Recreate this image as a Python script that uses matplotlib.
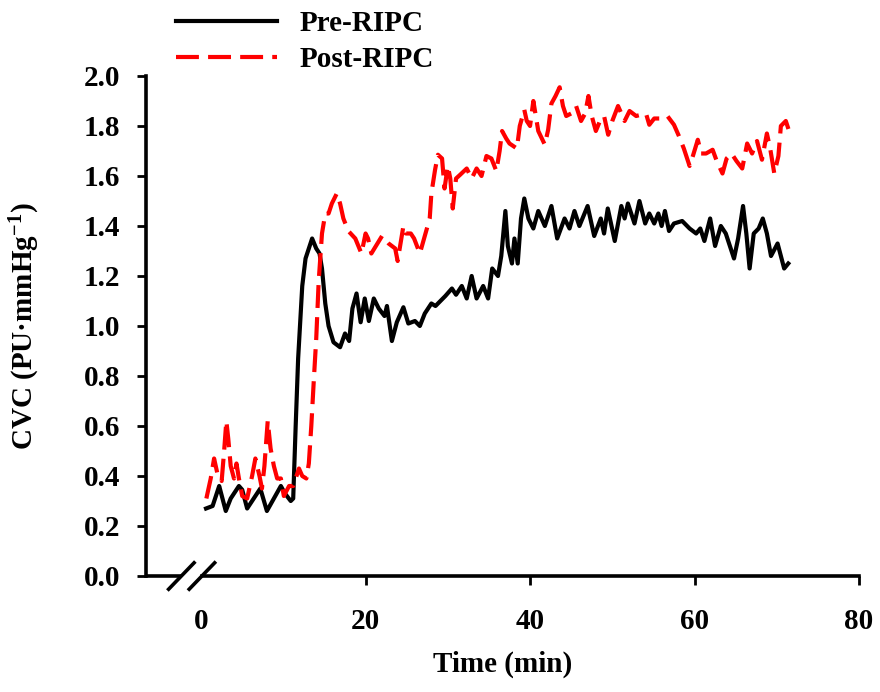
import matplotlib
matplotlib.use("Agg")
import matplotlib.pyplot as plt
import numpy as np

# ---------------- data ----------------
pre_t = [0.6, 1.4, 2.0, 2.2, 3.0, 3.6, 4.6, 5.0, 5.6, 6.4, 7.2, 8.0, 8.85, 9.7, 10.2, 10.9,
         11.2, 11.5, 11.8, 12.3, 12.7, 13.5, 14.0, 14.4, 14.7, 15.1, 15.5, 16.1, 16.9, 17.5,
         18.0, 18.4, 18.9, 19.4, 19.9, 20.4, 21.0, 21.6, 22.3, 22.6, 23.2, 23.8, 24.6, 25.2,
         26.0, 26.6, 27.2, 28.0, 28.5, 29.7, 30.5, 31.0, 31.7, 32.3, 32.9, 33.5, 34.3, 34.9,
         35.4, 36.1, 36.5, 37.0, 37.3, 37.8, 38.1, 38.5, 38.9, 39.3, 39.8, 40.4, 41.0, 41.8,
         42.6, 43.3, 44.2, 44.8, 45.4, 46.0, 47.0, 47.8, 48.6, 49.0, 49.45, 50.3, 51.1, 51.5,
         51.9, 52.7, 53.3, 54.0, 54.5, 55.1, 55.6, 56.0, 56.4, 56.9, 57.5, 58.5, 59.4, 60.2,
         60.7, 61.2, 61.9, 62.5, 63.2, 63.8, 64.2, 64.8, 65.3, 65.9, 66.3, 66.7, 67.2, 67.8,
         68.3, 68.8, 69.3, 70.1, 70.9, 71.4]
pre_v = [0.27, 0.28, 0.34, 0.36, 0.26, 0.31, 0.36, 0.345, 0.27, 0.31, 0.35, 0.26, 0.31, 0.36, 0.33, 0.30,
         0.31, 0.60, 0.87, 1.16, 1.27, 1.35, 1.31, 1.29, 1.23, 1.09, 1.00, 0.935, 0.915, 0.97,
         0.94, 1.07, 1.13, 1.015, 1.11, 1.02, 1.11, 1.07, 1.04, 1.08, 0.94, 1.015, 1.075, 1.01,
         1.02, 1.00, 1.05, 1.09, 1.08, 1.12, 1.15, 1.125, 1.16, 1.11, 1.20, 1.11, 1.16, 1.11,
         1.23, 1.20, 1.28, 1.46, 1.32, 1.25, 1.35, 1.25, 1.43, 1.51, 1.43, 1.39, 1.46, 1.40,
         1.48, 1.35, 1.43, 1.39, 1.46, 1.40, 1.48, 1.36, 1.43, 1.37, 1.47, 1.34, 1.48, 1.43,
         1.49, 1.41, 1.50, 1.41, 1.45, 1.41, 1.45, 1.40, 1.46, 1.38, 1.41, 1.42, 1.39, 1.37,
         1.39, 1.34, 1.43, 1.32, 1.40, 1.37, 1.33, 1.27, 1.35, 1.48, 1.37, 1.23, 1.37, 1.39,
         1.43, 1.37, 1.28, 1.33, 1.23, 1.25]

post_t = [0.64, 1.17, 1.58, 1.98, 2.5, 2.8, 3.07, 3.3, 3.6, 4.0, 4.3, 4.6, 5.0, 5.6, 6.2, 6.6,
          7.1, 7.4, 7.7, 8.1, 8.45, 8.85, 9.25, 9.7, 10.06, 10.7, 11.2, 11.9, 12.3, 12.8, 13.1,
          13.4, 13.7, 14.0, 14.3, 14.7, 15.1, 15.5, 15.9, 16.5, 16.9, 17.3, 17.9, 18.75, 19.5,
          20.0, 20.3, 20.7, 22.0, 22.8, 23.6, 23.9, 24.6, 24.9, 25.5, 25.9, 26.6, 27.2, 27.8,
          28.0, 28.45, 28.8, 29.3, 29.6, 30.0, 30.3, 30.6, 31.0, 31.5, 32.3, 32.9, 33.5, 34.1,
          34.7, 35.3, 35.9, 36.3, 36.6, 37.1, 37.5, 38.4, 38.75, 39.3, 39.6, 40.0, 40.4, 41.0,
          41.8, 42.2, 42.6, 43.1, 43.6, 44.0, 44.4, 45.0, 45.6, 46.2, 46.7, 47.1, 47.5, 48.0,
          48.5, 49.0, 49.5, 50.0, 50.7, 51.1, 51.5, 52.1, 52.9, 54.1, 54.5, 55.1, 55.9, 56.7,
          57.5, 58.1, 58.7, 59.4, 59.8, 60.4, 60.8, 61.4, 62.2, 62.7, 63.4, 63.9, 64.5, 65.1,
          65.8, 66.4, 67.0, 67.6, 68.2, 68.8, 69.2, 69.7, 70.2, 70.5, 71.1, 71.5]
post_v = [0.31, 0.39, 0.47, 0.41, 0.38, 0.50, 0.62, 0.55, 0.44, 0.39, 0.45, 0.39, 0.32, 0.31, 0.40, 0.47,
          0.40, 0.35, 0.44, 0.62, 0.51, 0.44, 0.39, 0.39, 0.32, 0.36, 0.36, 0.43, 0.40, 0.39, 0.45,
          0.60, 0.78, 0.95, 1.18, 1.37, 1.45, 1.45, 1.49, 1.53, 1.49, 1.43, 1.38, 1.35, 1.29,
          1.37, 1.35, 1.29, 1.36, 1.33, 1.31, 1.26, 1.40, 1.37, 1.37, 1.35, 1.29, 1.36, 1.43,
          1.53, 1.625, 1.685, 1.67, 1.55, 1.64, 1.59, 1.47, 1.59, 1.605, 1.63, 1.59, 1.63, 1.60,
          1.68, 1.67, 1.62, 1.70, 1.78, 1.75, 1.73, 1.71, 1.80, 1.865, 1.82, 1.80, 1.90, 1.78,
          1.725, 1.785, 1.89, 1.92, 1.955, 1.88, 1.84, 1.85, 1.88, 1.82, 1.85, 1.92, 1.84, 1.78,
          1.82, 1.84, 1.765, 1.82, 1.88, 1.85, 1.82, 1.86, 1.84, 1.85, 1.805, 1.83, 1.83, 1.84,
          1.805, 1.76, 1.71, 1.64, 1.68, 1.745, 1.69, 1.69, 1.705, 1.66, 1.61, 1.67, 1.69, 1.66,
          1.63, 1.73, 1.69, 1.74, 1.665, 1.77, 1.71, 1.61, 1.68, 1.80, 1.82, 1.78]

x_ticks = [0, 20, 40, 60, 80]
y_ticks = [0.0, 0.2, 0.4, 0.6, 0.8, 1.0, 1.2, 1.4, 1.6, 1.8, 2.0]
series_labels = ["Pre-RIPC", "Post-RIPC"]

# ---------------- style ----------------
FONT = "Liberation Serif"
plt.rcParams["font.family"] = [FONT, "DejaVu Serif"]
plt.rcParams["font.weight"] = "bold"
plt.rcParams["mathtext.fontset"] = "custom"
plt.rcParams["mathtext.rm"] = FONT + ":bold"
plt.rcParams["mathtext.it"] = FONT + ":bold:italic"
plt.rcParams["mathtext.bf"] = FONT + ":bold"
plt.rcParams["mathtext.default"] = "rm"
FS = 21

fig = plt.figure(figsize=(8.8, 6.92), dpi=100)
ax = fig.add_axes([146 / 880, 1 - 576 / 692, 713 / 880, 500 / 692])

lw = 3.0
l1, = ax.plot(pre_t, pre_v, color="black", lw=lw, solid_joinstyle="round")
l2, = ax.plot(post_t, post_v, color="#ff0000", lw=lw, linestyle=(0, (5.5, 2.2)),
              dash_capstyle="butt", dash_joinstyle="round")

xmin, xmax = -6.7, 80
ax.set_xlim(xmin, xmax)
ax.set_ylim(0, 2.0)

ax.set_xticks(x_ticks)
ax.set_xticklabels([str(v) for v in x_ticks])
ax.set_yticks(y_ticks)
ax.set_yticklabels([f"{v:.1f}" for v in y_ticks])

for s in ["top", "right"]:
    ax.spines[s].set_visible(False)
ax.spines["left"].set_linewidth(2.6)
ax.spines["bottom"].set_linewidth(2.6)

# axis break
s1, s2 = -2.4, 0.1
ax.spines["bottom"].set_bounds(s2, xmax)
ax.plot([xmin, s1], [0, 0], color="black", lw=2.6, clip_on=False, solid_capstyle="butt")
dx, dy = 1.7, 0.058
for s in (s1, s2):
    ax.plot([s - dx, s + dx], [-dy, dy], color="black", lw=2.6, clip_on=False,
            solid_capstyle="butt")

ax.tick_params(axis="both", direction="out", length=6.5, width=2.0, labelsize=FS)
ax.tick_params(axis="x", pad=16.5)
ax.tick_params(axis="y", pad=12)
ax.xaxis.get_major_ticks()[0].tick1line.set_visible(False)
for lab in ax.get_xticklabels() + ax.get_yticklabels():
    lab.set_fontweight("bold")

ax.set_xlabel("Time (min)", fontsize=FS, fontweight="bold", labelpad=11.5)
ax.set_ylabel("CVC (PU\u00b7mmHg$^{-1}$)", fontsize=FS, fontweight="bold", labelpad=30)

leg = ax.legend([l1, l2], series_labels, loc="upper left",
                bbox_to_anchor=(176 / 880, 1 - 10 / 692), bbox_transform=fig.transFigure,
                frameon=False, fontsize=FS, handlelength=3.46, handletextpad=0.79,
                labelspacing=0.32, borderpad=0, borderaxespad=0)
for t in leg.get_texts():
    t.set_fontweight("bold")

fig.savefig("out.png", dpi=100)
